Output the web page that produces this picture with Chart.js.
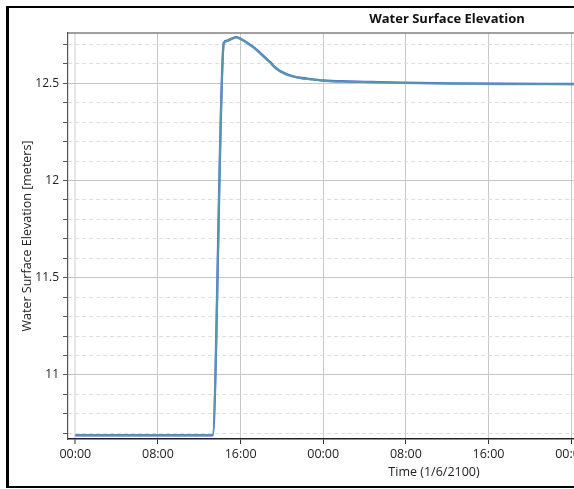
<!DOCTYPE html>
<html>
<head>
<meta charset="utf-8">
<script src="https://cdn.jsdelivr.net/npm/chart.js@4"></script>
<style>
  html, body { margin: 0; padding: 0; overflow: hidden; background: #fff; width: 574px; height: 489px; }
  #frame {
    position: absolute; left: 6px; top: 6px;
    border-left: 3px solid #000; border-top: 2px solid #000; border-bottom: 2px solid #000; border-right: 2px solid #000;
  }
  #wse { display: block; }
</style>
</head>
<body>
<div id="frame"><canvas id="wse" width="876" height="478"></canvas></div>
<script>
// hours from 00:00 on 1/6/2100
const hours = [0, 13.29, 14.37, 14.68, 15.16, 15.58, 15.97, 16.45, 16.94, 17.42, 17.9, 18.39, 18.87, 19.26, 19.67, 20.13, 20.49, 21.1, 21.77, 22.74, 24.0, 26.3, 28.8, 31.5, 36.3, 41.1, 48.6];
const royalValues = [10.69, 10.69, 12.707, 12.719, 12.729, 12.737, 12.729, 12.714, 12.696, 12.678, 12.655, 12.631, 12.608, 12.585, 12.568, 12.554, 12.545, 12.535, 12.528, 12.521, 12.514, 12.509, 12.506, 12.503, 12.499, 12.497, 12.496];
const cadetValues = [10.69, 10.69, 12.702, 12.716, 12.727, 12.735, 12.728, 12.713, 12.695, 12.676, 12.652, 12.628, 12.605, 12.583, 12.566, 12.552, 12.543, 12.534, 12.527, 12.52, 12.513, 12.508, 12.505, 12.501, 12.497, 12.495, 12.494];
const xTickStep = 8; // hours between time labels
const yMajorStep = 0.5;
const chartTitle = "Water Surface Elevation";

const isMajor = v => Math.abs(v / yMajorStep - Math.round(v / yMajorStep)) < 1e-6;
const timeLabel = h => String(((h % 24) + 24) % 24).padStart(2, "0") + ":00";

// top frame line of the plot + the title, which sits off the plot centre
const decor = {
  id: "decor",
  afterDraw(chart) {
    const { ctx, chartArea } = chart;
    ctx.save();
    ctx.strokeStyle = "#808080";
    ctx.lineWidth = 1.5;
    ctx.beginPath();
    ctx.moveTo(chartArea.left, chartArea.top);
    ctx.lineTo(chartArea.right, chartArea.top);
    ctx.stroke();
    ctx.fillStyle = "#111";
    ctx.font = 'bold 13px "Open Sans"';
    ctx.textAlign = "center";
    ctx.textBaseline = "middle";
    ctx.fillText(chartTitle, chart.width / 2, 11);
    ctx.restore();
  },
};

const pts = vals => hours.map((h, i) => ({ x: h, y: vals[i] }));

new Chart(document.getElementById("wse").getContext("2d"), {
  type: "line",
  data: {
    datasets: [
      { label: "Stage 2", data: pts(cadetValues), borderColor: "rgba(95,158,160,0.85)", borderWidth: 2, pointRadius: 0, cubicInterpolationMode: "monotone", order: 1 },
      { label: "Stage 1", data: pts(royalValues), borderColor: "#4169e1", borderWidth: 2.4, pointRadius: 0, cubicInterpolationMode: "monotone", order: 2 },
    ],
  },
  options: {
    responsive: false,
    animation: false,
    layout: { padding: { left: 0, right: 85, top: 25, bottom: 0 } },
    plugins: {
      legend: { display: false },
      tooltip: { enabled: false },
      title: { display: false },
    },
    scales: {
      x: {
        type: "linear",
        min: -0.71,
        max: 70.16,
        afterFit: s => { s.height = 47; },
        title: {
          display: true,
          text: "Time (1/6/2100)",
          color: "#222",
          font: { family: "Open Sans", size: 12.5 },
          padding: { top: 0, bottom: 6.5 },
        },
        ticks: {
          stepSize: xTickStep,
          includeBounds: false,
          autoSkip: false,
          maxRotation: 0,
          color: "#222",
          font: { family: "Open Sans", size: 12.5 },
          padding: 3,
          callback: v => timeLabel(v),
        },
        grid: {
          color: c => (c.tick && c.tick.value === 0 ? "#e6e6e6" : "#c8c8c8"),
          lineWidth: c => (c.tick && c.tick.value === 0 ? 2 : 1),
          tickColor: "#333",
          tickLength: 5,
          tickWidth: 1,
        },
        border: { color: "#222", width: 1.5 },
      },
      y: {
        type: "linear",
        min: 10.671,
        max: 12.758,
        afterFit: s => { s.width = 59; },
        title: {
          display: true,
          text: "Water Surface Elevation [meters]",
          color: "#222",
          font: { family: "Open Sans", size: 12.5 },
          padding: { top: 10.5, bottom: 0 },
        },
        ticks: {
          stepSize: 0.1,
          includeBounds: false,
          autoSkip: false,
          color: "#222",
          font: { family: "Open Sans", size: 12 },
          padding: 4,
          callback: v => (isMajor(v) ? String(+v.toFixed(1)) : ""),
        },
        grid: {
          color: c => (c.tick && isMajor(c.tick.value) ? "#c4c4c4" : "#dedede"),
          tickColor: "#555",
          tickLength: 5,
          tickWidth: 1,
          tickBorderDash: [],
        },
        border: {
          color: "#555",
          width: 1.2,
          dash: c => (c.tick && !isMajor(c.tick.value) ? [4, 3] : []),
        },
      },
    },
  },
  plugins: [decor],
});
</script>
</body>
</html>
